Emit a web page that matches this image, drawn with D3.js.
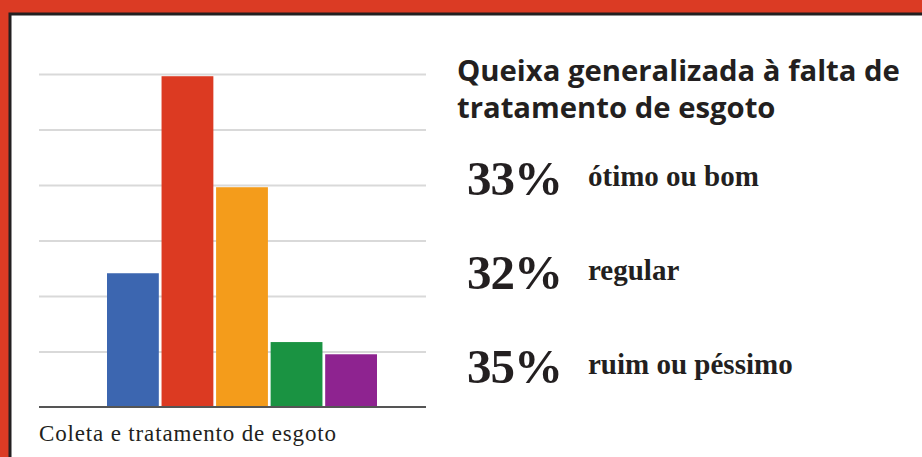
<!DOCTYPE html>
<html>
<head>
<meta charset="utf-8">
<script src="https://cdn.jsdelivr.net/npm/d3@7"></script>
<style>
  body { margin: 0; background: #fff; }
  svg { display: block; }
</style>
</head>
<body>
<script>
// dados do gráfico
const categorias = ['azul', 'vermelho', 'laranja', 'verde', 'roxo'];
const valores = [24.1, 59.6, 39.6, 11.7, 9.5];
const cores = ['#3c66b0', '#dc3a22', '#f49c1b', '#1a9342', '#8e2390'];
const ticksY = [0, 10, 20, 30, 40, 50, 60];

const titulo = ['Queixa generalizada à falta de', 'tratamento de esgoto'];
const percentuais = ['33%', '32%', '35%'];
const rotulos = ['ótimo ou bom', 'regular', 'ruim ou péssimo'];
const legenda = 'Coleta e tratamento de esgoto';

const width = 922;
const height = 457;
const ink = '#231f20';

const svg = d3.select('body')
  .append('svg')
  .attr('width', width)
  .attr('height', height);

// moldura vermelha
svg.append('rect')
  .attr('width', width)
  .attr('height', height)
  .attr('fill', '#db3b24');

svg.append('rect')
  .attr('x', 10)
  .attr('y', 14)
  .attr('width', width)
  .attr('height', height)
  .attr('fill', '#fff')
  .attr('stroke', ink)
  .attr('stroke-width', 3);

// escalas
const escalaX = d3.scaleBand()
  .domain(categorias)
  .range([107, 377])
  .paddingInner(0.05);

const escalaY = d3.scaleLinear()
  .domain([0, 60])
  .range([407, 74]);

const gradeX0 = 39;
const gradeX1 = 426;

const eixoY = d3.axisLeft(escalaY)
  .tickValues(ticksY.slice(1))
  .tickSize(-(gradeX1 - gradeX0))
  .tickFormat('');

const grade = svg.append('g')
  .attr('transform', `translate(${gradeX0}, 0)`)
  .call(eixoY);

grade.select('.domain').remove();
grade.selectAll('line')
  .attr('stroke', '#d9d9d9')
  .attr('stroke-width', 2);

// barras
svg.append('g')
  .selectAll('rect')
  .data(valores)
  .join('rect')
  .attr('x', (d, i) => escalaX(categorias[i]))
  .attr('y', (d) => escalaY(d))
  .attr('width', escalaX.bandwidth())
  .attr('height', (d) => escalaY(0) - escalaY(d))
  .attr('fill', (d, i) => cores[i]);

// linha de base
svg.append('line')
  .attr('x1', gradeX0)
  .attr('x2', gradeX1)
  .attr('y1', escalaY(0))
  .attr('y2', escalaY(0))
  .attr('stroke', '#555')
  .attr('stroke-width', 2);

svg.append('text')
  .attr('x', 39)
  .attr('y', 441)
  .attr('font-family', 'Liberation Serif, serif')
  .attr('font-size', 23)
  .attr('textLength', 297)
  .attr('lengthAdjust', 'spacing')
  .attr('fill', ink)
  .text(legenda);

// título
const tituloG = svg.append('g');
tituloG.selectAll('text')
  .data(titulo)
  .join('text')
  .attr('x', 457)
  .attr('y', (d, i) => 81 + i * 37)
  .attr('font-family', 'Open Sans, sans-serif')
  .attr('font-weight', 700)
  .attr('font-size', 28)
  .attr('fill', ink)
  .text((d) => d);

// ajusta o tamanho da fonte para a largura do original
const larg = tituloG.select('text').node().getComputedTextLength();
tituloG.selectAll('text').attr('font-size', 28 * 443 / larg);

// percentuais
const linhas = svg.append('g')
  .selectAll('g')
  .data(percentuais)
  .join('g')
  .attr('transform', (d, i) => `translate(0, ${195 + i * 94})`);

linhas.append('text')
  .attr('x', 467)
  .attr('font-family', 'Liberation Serif, serif')
  .attr('font-weight', 700)
  .attr('font-size', 49)
  .attr('letter-spacing', -1)
  .attr('fill', ink)
  .text((d) => d);

linhas.append('text')
  .attr('x', 588)
  .attr('y', -9)
  .attr('font-family', 'Liberation Serif, serif')
  .attr('font-weight', 700)
  .attr('font-size', 29)
  .attr('fill', ink)
  .text((d, i) => rotulos[i]);
</script>
</body>
</html>
